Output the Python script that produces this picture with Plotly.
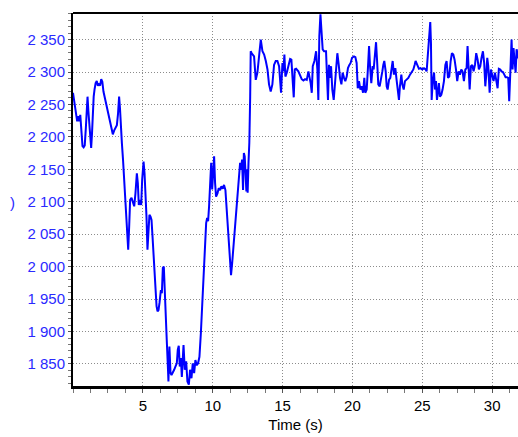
import plotly.graph_objects as go

time_s = [
    0.00, 0.08, 0.16, 0.24, 0.30, 0.38, 0.44, 0.52, 0.60, 0.68, 0.76, 0.84, 0.92, 1.00, 1.04, 1.10,
    1.18, 1.24, 1.30, 1.36, 1.42, 1.48, 1.54, 1.62, 1.70, 1.78, 1.86, 1.94, 2.02, 2.10, 2.18, 2.26,
    2.35, 2.45, 2.55, 2.65, 2.75, 2.85, 2.95, 3.05, 3.14, 3.22, 3.30, 3.36, 3.42, 3.50, 3.58, 3.66,
    3.74, 3.80, 3.88, 3.95, 4.02, 4.09,
    4.19, 4.28, 4.38, 4.47, 4.57, 4.64, 4.71, 4.81, 4.88, 4.95, 5.05, 5.12, 5.19, 5.26, 5.33, 5.40,
    5.47, 5.55, 5.62, 5.69, 5.76, 5.83, 5.90, 5.98, 6.05, 6.12, 6.19, 6.29, 6.36, 6.43, 6.50, 6.57,
    6.64, 6.71, 6.79, 6.83, 6.90, 6.98, 7.05, 7.14, 7.24, 7.33, 7.43, 7.50, 7.57, 7.64, 7.72, 7.79,
    7.86, 7.91, 8.00, 8.10, 8.19, 8.29, 8.38, 8.48, 8.57, 8.67, 8.76, 8.86, 8.95, 9.05, 9.15, 9.24,
    9.34, 9.43, 9.53, 9.60, 9.67, 9.74, 9.81, 9.89, 9.96, 10.03, 10.10, 10.17, 10.24, 10.34, 10.43,
    10.53, 10.62, 10.72, 10.81, 10.91, 10.98, 11.05, 11.12, 11.20, 11.27, 11.31, 11.39, 11.46, 11.53,
    11.60, 11.70, 11.79, 11.89, 11.96, 12.03, 12.10, 12.17, 12.23, 12.29, 12.36, 12.41, 12.47, 12.50,
    12.56, 12.62, 12.68, 12.72, 12.79, 12.96, 13.08, 13.20, 13.34, 13.44, 13.56, 13.68, 13.80, 13.92,
    14.03, 14.15, 14.27, 14.39, 14.51, 14.63, 14.75, 14.82, 14.89, 14.99, 15.06, 15.13, 15.20, 15.30,
    15.42, 15.54, 15.63, 15.73, 15.80, 15.87, 15.97, 16.13, 16.25, 16.37, 16.49, 16.61, 16.73, 16.85,
    16.92, 17.01, 17.09, 17.16, 17.28, 17.40, 17.49, 17.56, 17.63, 17.71, 17.78, 17.87, 17.97, 18.11,
    18.18, 18.25, 18.32, 18.40, 18.47, 18.56, 18.66, 18.75, 18.85, 18.92, 19.02, 19.11, 19.21, 19.30,
    19.40, 19.49, 19.59, 19.68, 19.78, 19.87, 19.97, 20.11, 20.21, 20.30, 20.38, 20.47, 20.57, 20.66,
    20.76, 20.85, 20.92, 21.02, 21.11, 21.19, 21.26, 21.35, 21.45, 21.52, 21.62, 21.69, 21.76, 21.85,
    21.95, 22.04, 22.14, 22.21, 22.28, 22.38, 22.45, 22.52, 22.62, 22.71, 22.81, 22.88, 22.97, 23.07,
    23.16, 23.26, 23.33, 23.40, 23.50, 23.57, 23.67, 23.76, 23.88, 24.00, 24.12, 24.24, 24.36, 24.45,
    24.52, 24.64, 24.76, 24.88, 25.00, 25.12, 25.24, 25.31, 25.41, 25.50, 25.57, 25.62, 25.67, 25.74,
    25.84, 25.91, 25.98, 26.05, 26.12, 26.19, 26.26, 26.36, 26.45, 26.55, 26.65, 26.74, 26.84, 26.93,
    27.03, 27.12, 27.22, 27.31, 27.41, 27.50, 27.60, 27.69, 27.79, 27.88, 27.98, 28.08, 28.17, 28.24,
    28.31, 28.39, 28.48, 28.58, 28.67, 28.77, 28.86, 28.96, 29.05, 29.15, 29.24, 29.34, 29.43, 29.51,
    29.58, 29.65, 29.72, 29.82, 29.91, 30.01, 30.10, 30.20, 30.29, 30.39, 30.48, 30.58, 30.67, 30.77,
    30.87, 30.96, 31.06, 31.15, 31.22, 31.29, 31.39, 31.46, 31.53, 31.60, 31.68, 31.75, 31.82, 31.90,
]

speed_rpm = [
    2268, 2255, 2242, 2228, 2224, 2232, 2224, 2234, 2214, 2186, 2184, 2187, 2214, 2245, 2262, 2240,
    2215, 2198, 2183, 2205, 2240, 2262, 2273, 2283, 2286, 2279, 2281, 2279, 2289, 2285, 2270, 2262,
    2252, 2243, 2232, 2222, 2212, 2204, 2210, 2214, 2218, 2235, 2262, 2245, 2210, 2190, 2165, 2134,
    2105, 2093, 2062, 2026, 2062, 2103,
    2106, 2100, 2093, 2113, 2144, 2129, 2095, 2103, 2095, 2134, 2162, 2144, 2113, 2077, 2026, 2062,
    2080, 2077, 2072, 2047, 2021, 1980, 1954, 1939, 1931, 1933, 1944, 1964, 1959, 1998, 2000, 1969,
    1928, 1887, 1846, 1823, 1877, 1836, 1833, 1836, 1841, 1846, 1851, 1872, 1878, 1846, 1859, 1830,
    1861, 1879, 1841, 1854, 1823, 1818, 1841, 1828, 1851, 1836, 1856, 1848, 1851, 1861, 1897, 1939,
    1975, 2021, 2067, 2075, 2070, 2093, 2134, 2160, 2119, 2139, 2170, 2129, 2108, 2113, 2121,
    2118, 2124, 2120, 2126, 2118, 2093, 2062, 2041, 2021, 2000, 1987, 2005, 2026, 2041,
    2062, 2082, 2118, 2139, 2160, 2149, 2165, 2118, 2175, 2170, 2130, 2116, 2150, 2114,
    2160, 2191, 2260, 2332, 2329, 2324, 2288, 2299, 2329, 2350, 2332, 2327, 2317, 2304,
    2281, 2270, 2281, 2311, 2317, 2317, 2309, 2291, 2268, 2314, 2301, 2327, 2293, 2299,
    2311, 2320, 2319, 2283, 2261, 2304, 2305, 2301, 2296, 2289, 2287, 2289, 2288, 2301,
    2293, 2283, 2268, 2309, 2317, 2332, 2304, 2257, 2355, 2389, 2365, 2335, 2332, 2332,
    2293, 2257, 2311, 2291, 2309, 2273, 2257, 2288, 2322, 2329, 2311, 2291, 2281, 2299,
    2291, 2286, 2293, 2306, 2311, 2314, 2322, 2324, 2323, 2314, 2275, 2286, 2273, 2278,
    2268, 2291, 2268, 2273, 2306, 2340, 2309, 2283, 2309, 2304, 2329, 2346, 2319, 2281,
    2278, 2293, 2301, 2311, 2317, 2301, 2278, 2273, 2288, 2291, 2306, 2317, 2296, 2306,
    2288, 2273, 2257, 2278, 2296, 2281, 2273, 2286, 2288, 2291, 2296, 2301, 2304, 2311,
    2317, 2311, 2305, 2306, 2304, 2306, 2304, 2301, 2329, 2365, 2377, 2345, 2257, 2283,
    2299, 2273, 2286, 2257, 2275, 2283, 2262, 2265, 2273, 2286, 2311, 2317, 2291, 2293,
    2317, 2329, 2327, 2319, 2304, 2286, 2301, 2296, 2304, 2301, 2286, 2304, 2306, 2340,
    2309, 2273, 2309, 2311, 2301, 2311, 2329, 2319, 2304, 2309, 2322, 2332, 2314, 2278,
    2296, 2322, 2309, 2268, 2304, 2296, 2286, 2299, 2288, 2275, 2305, 2304, 2301, 2300,
    2296, 2292, 2292, 2291, 2255, 2309, 2350, 2304, 2337, 2319, 2299, 2335, 2329, 2320,
]

x_ticks = [5, 10, 15, 20, 25, 30]
y_ticks = [1850, 1900, 1950, 2000, 2050, 2100, 2150, 2200, 2250, 2300, 2350]

FONT = "Liberation Sans, Arial, sans-serif"
BLUE = "#0000ff"
LABEL_BLUE = "#2a2aff"
GRID = "#8c8c8c"

fig = go.Figure()
fig.add_trace(go.Scatter(
    x=time_s, y=speed_rpm, mode="lines",
    line=dict(color=BLUE, width=2),
    showlegend=False, hoverinfo="skip",
))

fig.update_layout(
    width=518, height=437,
    margin=dict(l=73, r=0, t=13, b=51, pad=0),
    paper_bgcolor="white", plot_bgcolor="white",
    separators=". ",
    font=dict(family=FONT, size=15, color="black"),
    xaxis=dict(
        range=[0, 31.85], tickvals=x_ticks, ticktext=[str(v) for v in x_ticks],
        showgrid=True, gridcolor=GRID, griddash="1px,2px", gridwidth=1,
        zeroline=False, showline=True, linecolor="black", linewidth=3,
        ticks="outside", ticklen=4, tickwidth=1, tickcolor="#555",
        minor=dict(dtick=1.25, tick0=0, ticks="outside", ticklen=4, tickcolor="#777", showgrid=False),
        tickfont=dict(family=FONT, size=15, color="black"),
        title=dict(text="Time (s)", font=dict(family=FONT, size=15, color="black"), standoff=7),
    ),
    yaxis=dict(
        range=[1816, 2391], tickvals=y_ticks, separatethousands=True,
        showgrid=True, gridcolor=GRID, griddash="1px,2px", gridwidth=1,
        zeroline=False, showline=True, linecolor="black", linewidth=2,
        ticks="outside", ticklen=3, tickwidth=1, tickcolor="#555",
        minor=dict(dtick=10, tick0=1800, ticks="outside", ticklen=3, tickcolor="#777", showgrid=False),
        tickfont=dict(family=FONT, size=15, color=LABEL_BLUE),
        ticklabelstandoff=0,
    ),
    shapes=[dict(type="line", xref="paper", yref="paper", x0=0, x1=1, y0=1, y1=1,
                 line=dict(color="black", width=2))],
    annotations=[dict(text=")", xref="paper", yref="paper", x=-0.125, y=0.493,
                      xanchor="right", yanchor="middle", showarrow=False,
                      font=dict(family=FONT, size=15, color=LABEL_BLUE))],
)

fig.write_html(
    "out.html",
    config={"displayModeBar": False, "staticPlot": True},
    post_script="document.body.style.margin='0';document.body.style.overflow='hidden';",
)
